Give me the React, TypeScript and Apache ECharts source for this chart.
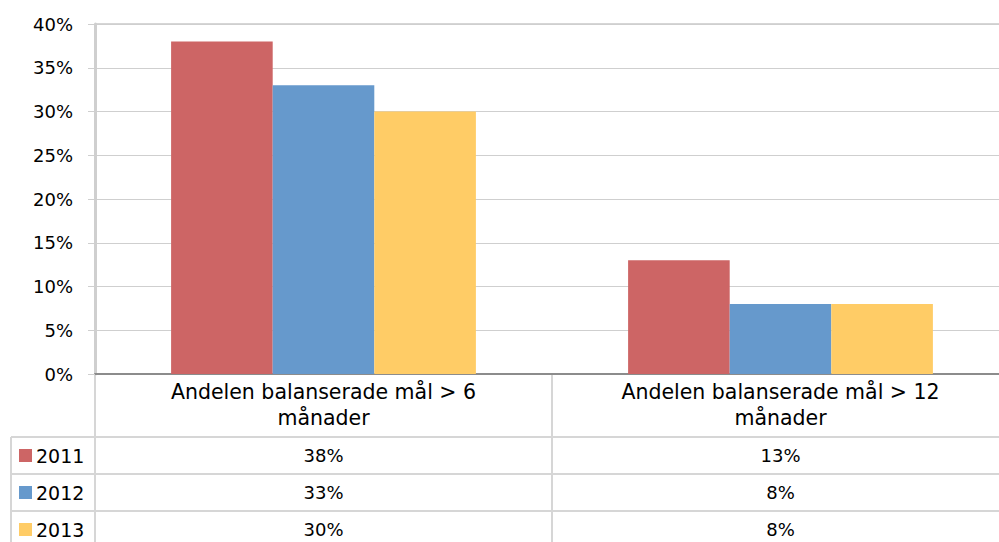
import React, { useEffect, useRef } from "react";
import * as echarts from "echarts";

const categories = [
  "Andelen balanserade mål > 6 månader",
  "Andelen balanserade mål > 12 månader",
];
const seriesNames = ["2011", "2012", "2013"];
const values2011 = [38, 13];
const values2012 = [33, 8];
const values2013 = [30, 8];
const seriesValues = [values2011, values2012, values2013];
const colors = ["#CD6565", "#6699CC", "#FFCC66"];

const FONT = "DejaVu Sans";
const W = 999;
const H = 542;
const CHART_W = 1030;
const GRID_LEFT = 95;
const GRID_TOP = 24;
const GRID_W = 914;
const GRID_BOTTOM_Y = 374;
const ROW_TOP = 437;
const ROW_H = 37;
const LINE = "#d6d6d6";

export default function App() {
  const ref = useRef<HTMLDivElement>(null);
  useEffect(() => {
    document.body.style.margin = "0";
    const chart = echarts.init(ref.current!, null, { renderer: "svg" });
    const catW = GRID_W / categories.length;
    const graphics: any[] = [];
    const ln = (x1: number, y1: number, x2: number, y2: number) =>
      graphics.push({
        type: "line",
        shape: { x1, y1, x2, y2 },
        style: { stroke: LINE, lineWidth: 2 },
        silent: true,
      });
    const bottom = ROW_TOP + ROW_H * seriesNames.length;
    ln(GRID_LEFT, GRID_BOTTOM_Y, GRID_LEFT, bottom);
    for (let i = 1; i <= categories.length; i++) {
      ln(GRID_LEFT + catW * i, GRID_BOTTOM_Y, GRID_LEFT + catW * i, bottom);
    }
    ln(11, ROW_TOP, 11, bottom);
    for (let r = 0; r <= seriesNames.length; r++) {
      ln(11, ROW_TOP + ROW_H * r, GRID_LEFT + GRID_W, ROW_TOP + ROW_H * r);
    }
    // top border of plot area
    ln(GRID_LEFT, GRID_TOP, GRID_LEFT + GRID_W, GRID_TOP);
    seriesNames.forEach((name, r) => {
      const cy = ROW_TOP + ROW_H * r + ROW_H / 2;
      graphics.push({
        type: "rect",
        shape: { x: 19, y: cy - 6.5, width: 13, height: 13 },
        style: { fill: colors[r] },
        silent: true,
      });
      graphics.push({
        type: "text",
        x: 36,
        y: cy,
        style: {
          text: name,
          font: `19px "${FONT}"`,
          fill: "#000",
          verticalAlign: "middle",
        },
        silent: true,
      });
      seriesValues[r].forEach((v, c) => {
        graphics.push({
          type: "text",
          x: GRID_LEFT + catW * (c + 0.5),
          y: cy,
          style: {
            text: `${v}%`,
            font: `18px "${FONT}"`,
            fill: "#000",
            align: "center",
            verticalAlign: "middle",
          },
          silent: true,
        });
      });
    });

    chart.setOption({
      animation: false,
      grid: {
        left: GRID_LEFT,
        top: GRID_TOP,
        width: GRID_W,
        height: GRID_BOTTOM_Y - GRID_TOP,
        containLabel: false,
      },
      xAxis: {
        type: "category",
        data: categories,
        axisLine: { show: true, lineStyle: { color: "#8c8c8c", width: 2 } },
        axisTick: { show: false },
        axisLabel: {
          interval: 0,
          margin: 5,
          color: "#000",
          fontFamily: FONT,
          fontSize: 20.5,
          lineHeight: 26,
          formatter: (v: string) => v.replace(" månader", "\nmånader"),
        },
      },
      yAxis: {
        type: "value",
        min: 0,
        max: 40,
        interval: 5,
        axisLine: { show: true, lineStyle: { color: "#cfcfcf", width: 3 } },
        axisTick: { show: true, length: 7, lineStyle: { color: "#cfcfcf", width: 1 } },
        splitLine: { show: true, lineStyle: { color: "#cfcfcf", width: 1 } },
        axisLabel: {
          margin: 22,
          color: "#000",
          fontFamily: FONT,
          fontSize: 18,
          formatter: "{value}%",
        },
      },
      series: seriesNames.map((name, i) => ({
        type: "bar",
        name,
        data: seriesValues[i],
        barWidth: 101.6,
        barGap: "0%",
        itemStyle: { color: colors[i] },
      })),
      graphic: graphics,
    });
    return () => chart.dispose();
  }, []);
  return (
    <div style={{ width: W, height: H, overflow: "hidden", position: "relative" }}>
      <div ref={ref} style={{ width: CHART_W, height: H }} />
    </div>
  );
}
